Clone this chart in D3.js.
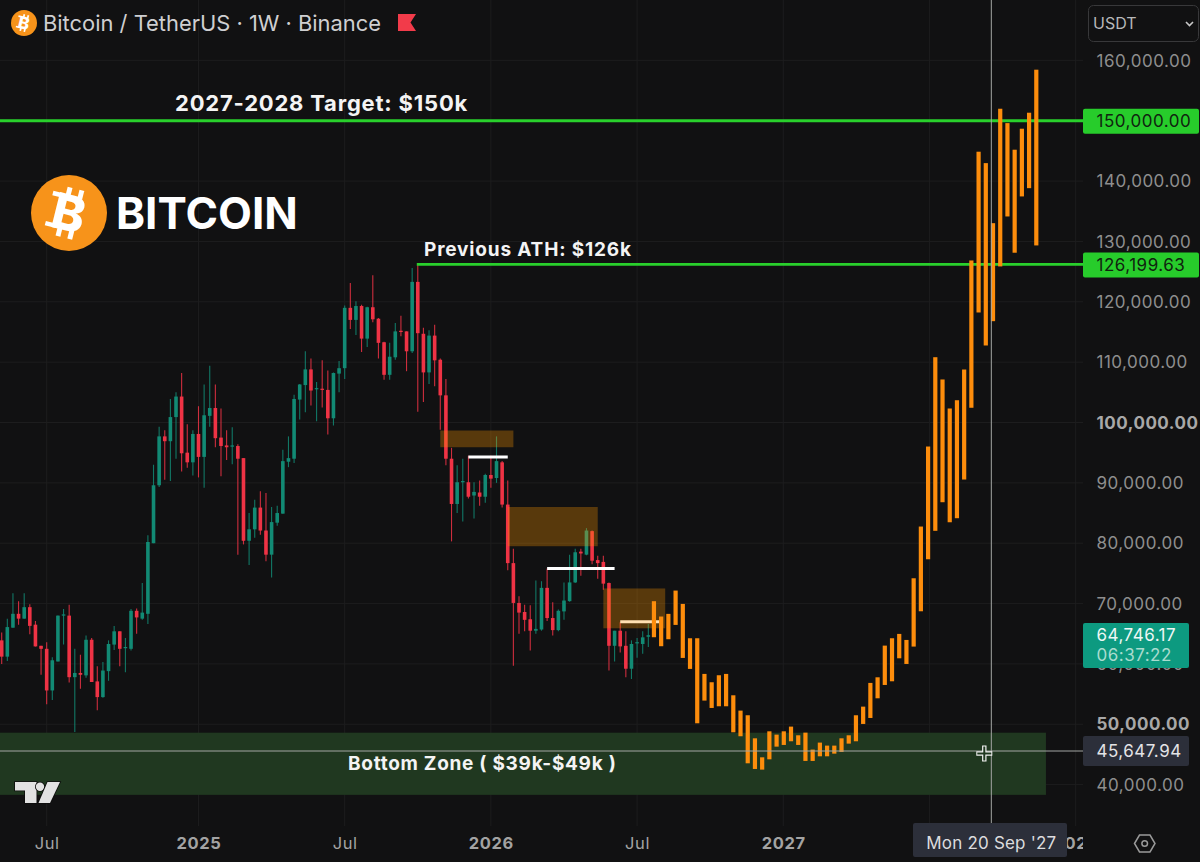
<!DOCTYPE html>
<html>
<head>
<meta charset="utf-8">
<script src="https://cdn.jsdelivr.net/npm/d3@7"></script>
<style>
  html, body { margin: 0; padding: 0; background: #111112; overflow: hidden; }
  svg { display: block; font-family: Inter, "Noto Sans", sans-serif; }
</style>
</head>
<body>
<div id="chart"></div>
<script>
// weekly candles in thousands of USDT
const opens = [63.9,61.2,66.0,68.3,67.5,69.4,66.5,63.0,62.5,55.6,60.4,68.0,68.0,57.8,58.5,58.1,64.0,57.1,54.5,58.8,63.2,65.4,62.6,62.5,68.8,67.5,68.3,80.0,89.6,97.7,96.9,100.9,104.3,95.0,93.4,98.1,94.3,101.1,102.4,97.5,96.2,96.0,96.1,94.1,80.4,82.3,85.9,82.1,78.1,83.4,84.9,93.5,94.0,103.8,106.2,108.8,105.5,105.6,105.4,100.7,108.1,109.0,119.0,117.0,119.3,113.9,119.1,117.2,113.3,107.9,110.8,115.2,115.1,111.8,123.3,114.7,108.3,114.4,110.4,104.5,94.0,86.5,90.1,90.1,87.9,88.4,87.7,91.3,90.8,93.4,86.4,76.7,70.1,68.6,67.4,65.5,65.7,72.6,67.6,65.6,68.7,70.4,73.5,78.6,78.1,82.0,77.2,76.9,73.4,63.0,65.5,63.0,59.2,63.4,63.3,64.5];
const closes = [61.2,66.1,68.3,67.5,69.4,66.3,62.9,62.5,55.6,60.6,68.0,68.2,57.8,58.5,58.2,64.0,57.0,54.5,58.9,63.3,65.4,62.5,62.8,68.8,67.7,68.5,80.2,89.6,97.7,96.9,100.9,104.3,94.9,93.4,98.1,94.3,101.2,102.4,97.4,96.1,95.9,96.2,94.0,80.4,82.3,85.9,82.1,78.1,83.5,85.0,93.6,94.1,103.9,106.3,108.8,105.3,105.7,105.5,100.7,108.2,109.0,119.0,117.0,119.3,113.9,119.1,117.1,113.2,107.9,110.9,115.1,115.0,111.8,123.3,114.8,108.3,114.4,110.3,104.5,94.0,86.5,90.1,90.3,87.7,88.5,87.7,91.3,90.7,93.6,86.4,76.7,70.1,68.5,67.3,65.5,65.8,72.6,67.6,65.6,68.8,70.5,73.5,78.5,78.3,82.1,77.1,76.7,73.3,63.0,65.5,62.9,59.2,63.3,63.6,64.4,64.75];
const highs = [65.2,67.5,71.7,70.4,71.7,69.9,67.1,63.0,63.6,61.1,68.0,69.1,69.8,62.5,61.5,64.7,64.3,59.6,60.3,63.9,66.3,65.4,64.3,69.1,69.2,73.4,81.3,93.0,99.3,98.7,103.9,105.0,108.2,99.7,98.7,102.7,106.3,109.4,106.3,102.3,98.7,99.2,96.4,94.1,85.0,87.2,88.6,88.3,86.0,86.2,95.5,97.7,104.6,106.4,111.8,110.6,106.7,110.3,108.6,108.3,110.2,119.4,123.1,120.1,119.5,119.2,124.4,117.3,113.4,113.2,116.5,117.7,115.1,125.6,126.2,115.7,115.3,116.2,110.6,107.2,95.8,92.9,94.0,94.5,90.1,90.4,91.5,94.5,97.7,93.6,90.4,79.1,71.2,69.8,69.7,73.8,73.7,75.8,70.2,69.0,73.5,78.1,79.1,79.1,82.5,82.1,77.9,77.9,73.5,65.5,66.9,65.4,63.9,64.3,65.4,66.6];
const lows = [60.0,60.5,66.0,66.5,67.5,64.9,62.9,58.2,53.3,54.0,60.4,63.2,56.9,48.7,55.9,57.7,57.0,52.3,54.4,57.2,62.3,59.6,58.6,62.2,65.0,67.3,66.6,80.0,89.3,90.5,90.3,94.0,91.9,92.5,91.2,90.9,89.2,99.3,95.9,91.1,93.8,93.1,78.1,79.8,76.4,80.9,81.4,77.0,74.3,82.9,84.9,92.6,93.3,100.5,101.7,102.8,100.2,102.5,98.0,99.5,105.0,107.2,115.5,114.5,111.7,112.5,116.6,110.6,107.1,107.1,110.4,114.3,108.5,111.5,101.8,103.4,106.4,106.0,98.8,92.9,80.3,85.0,83.6,87.4,84.1,86.2,86.7,89.2,90.0,85.9,75.5,59.7,65.0,65.4,62.2,65.0,65.5,67.1,64.7,65.4,67.3,70.3,73.4,74.6,78.0,76.5,74.1,72.3,58.9,60.4,61.9,57.8,57.5,61.0,61.7,62.8];

// orange projected bars, top and bottom of each bar
const projTops = [70.39,67.85,68.29,72.15,69.94,64.25,64.25,58.34,56.96,58.12,58.34,54.80,52.26,51.49,47.67,44.52,48.83,48.28,48.83,49.61,48.17,48.61,45.80,46.96,46.46,46.46,47.67,48.17,51.49,52.92,56.85,57.78,63.03,64.25,64.97,63.97,74.19,82.76,96.02,110.82,107.13,102.32,103.69,108.78,126.85,144.87,142.98,133.03,151.99,149.61,145.20,148.68,151.33,158.46];
const projBottoms = [64.42,62.93,64.09,66.46,60.99,59.17,50.16,53.92,52.70,52.98,52.98,48.67,48.01,43.53,42.59,42.48,44.19,46.29,46.57,47.18,46.57,43.92,43.92,44.69,44.69,45.13,45.41,46.79,47.18,50.05,51.04,54.30,56.51,57.12,60.93,59.99,62.87,68.72,77.34,82.05,86.79,83.47,84.14,90.55,102.44,118.23,112.76,116.79,125.86,134.14,128.13,137.46,138.83,129.34];

// axes
const priceTicks = [160000,150000,140000,130000,120000,110000,100000,90000,80000,70000,60000,50000,40000];
const boldPrices = [100000,50000];
const timeTicks = ["2024-07-01","2025-01-06","2025-07-07","2026-01-05","2026-07-06","2027-01-04","2027-07-05","2028-01-03"];
// the Jul 2027 label sits under the date tag in the picture, so it stays empty
const timeLabels = ["Jul","2025","Jul","2026","Jul","2027","","2028"];

// drawings
const supplyStarts = ["2025-11-03","2026-01-26","2026-05-25"];
const supplyEnds = ["2026-02-02","2026-05-18","2026-08-10"];
const supplyTops = [98.67,86.0,72.5];
const supplyBottoms = [95.9,79.5,65.9];
const whiteStarts = ["2025-12-08","2026-03-16","2026-06-15"];
const whiteEnds = ["2026-01-26","2026-06-08","2026-08-03"];
const whiteLevels = [94.3,75.8,67.0];

const target = 150000, prevAth = 126199.63, lastPrice = 64746.17, crossPrice = 45647.94;

const width = 1200, height = 862, plotRight = 1083;
const k = v => v * 1000;
const day = s => new Date(s + "T00:00:00Z");
const firstWeek = day("2024-05-06");
const weeks = opens.map((_, i) => d3.utcMonday.offset(firstWeek, i));

const x = d3.scaleUtc()
  .domain([firstWeek, d3.utcMonday.offset(firstWeek, 184)])
  .range([1.7, 1036.3]);
const y = d3.scaleLinear().domain([40000, 160000]).range([784.6, 60.4]);
const xProj = d3.scalePoint()
  .domain(d3.range(projTops.length))
  .range([x(day("2026-07-27")), x(day("2027-11-15"))]);

const svg = d3.select("#chart").append("svg")
  .attr("width", width)
  .attr("height", height);

svg.append("rect").attr("width", width).attr("height", height).attr("fill", "#111112");

const defs = svg.append("defs");
defs.append("clipPath").attr("id", "plot-clip")
  .append("rect").attr("width", plotRight).attr("height", height);

// grid
const grid = svg.append("g").attr("stroke", "#1d1d1e").attr("stroke-width", 1);
grid.selectAll(".h").data(priceTicks).join("line").attr("class", "h")
  .attr("x1", 0).attr("x2", plotRight)
  .attr("y1", d => y(d)).attr("y2", d => y(d));
grid.selectAll(".v").data(timeTicks).join("line").attr("class", "v")
  .attr("x1", d => x(day(d))).attr("x2", d => x(day(d)))
  .attr("y1", 0).attr("y2", 826);

// bottom zone
svg.append("rect")
  .attr("x", x(day("2024-01-01")))
  .attr("width", x(day("2027-11-27")) - x(day("2024-01-01")))
  .attr("y", y(k(48.6)))
  .attr("height", y(k(38.3)) - y(k(48.6)))
  .attr("fill", "#203820");

// candles
const candle = svg.append("g").selectAll("g").data(weeks).join("g")
  .attr("fill", (d, i) => closes[i] >= opens[i] ? "#128a74" : "#ef3345")
  .attr("stroke", (d, i) => closes[i] >= opens[i] ? "#128a74" : "#ef3345");
candle.append("line")
  .attr("x1", d => x(d)).attr("x2", d => x(d))
  .attr("y1", (d, i) => y(k(highs[i])))
  .attr("y2", (d, i) => y(k(lows[i])))
  .attr("stroke-width", 1.1)
  .attr("stroke-opacity", 0.85);
candle.append("rect")
  .attr("x", d => x(d) - 1.8)
  .attr("width", 3.6)
  .attr("y", (d, i) => y(k(Math.max(opens[i], closes[i]))))
  .attr("height", (d, i) => Math.max(1.2, Math.abs(y(k(opens[i])) - y(k(closes[i])))))
  .attr("stroke", "none");

// white levels, then the supply boxes over them
svg.append("g").selectAll("line").data(whiteLevels).join("line")
  .attr("x1", (d, i) => x(day(whiteStarts[i])))
  .attr("x2", (d, i) => x(day(whiteEnds[i])))
  .attr("y1", d => y(k(d))).attr("y2", d => y(k(d)))
  .attr("stroke", "#fff").attr("stroke-width", 3);

svg.append("g").selectAll("rect").data(supplyTops).join("rect")
  .attr("x", (d, i) => x(day(supplyStarts[i])))
  .attr("width", (d, i) => x(day(supplyEnds[i])) - x(day(supplyStarts[i])))
  .attr("y", d => y(k(d)))
  .attr("height", (d, i) => y(k(supplyBottoms[i])) - y(k(d)))
  .attr("fill", "#ff9800").attr("fill-opacity", 0.3);

// green levels
const levels = svg.append("g").attr("stroke", "#29d02c").attr("stroke-width", 2.8);
levels.append("line").attr("x1", 0).attr("x2", plotRight).attr("y1", y(target)).attr("y2", y(target));
levels.append("line").attr("x1", x(weeks[74]) - 1).attr("x2", plotRight).attr("y1", y(prevAth)).attr("y2", y(prevAth));

// projection
svg.append("g").selectAll("rect").data(projTops).join("rect")
  .attr("x", (d, i) => xProj(i) - 2.1)
  .attr("width", 4.2)
  .attr("y", d => y(k(d)))
  .attr("height", (d, i) => y(k(projBottoms[i])) - y(k(d)))
  .attr("fill", "#fd8d0c");

// crosshair
const cross = svg.append("g").attr("stroke", "#a3a6a3").attr("stroke-width", 1);
cross.append("line").attr("x1", 0).attr("x2", plotRight).attr("y1", y(crossPrice) + 0.5).attr("y2", y(crossPrice) + 0.5);
cross.append("line").attr("x1", x(day("2027-09-20"))).attr("x2", x(day("2027-09-20"))).attr("y1", 0).attr("y2", 826);

// time axis, clipped at the price scale
const timeAxis = d3.axisBottom(x)
  .tickValues(timeTicks.map(day))
  .tickSize(0)
  .tickPadding(11)
  .tickFormat((d, i) => timeLabels[i]);
const gx = svg.append("g")
  .attr("transform", "translate(0,826)")
  .attr("clip-path", "url(#plot-clip)")
  .call(timeAxis);
gx.select(".domain").remove();
gx.selectAll("text")
  .attr("fill", "#a3a3a3")
  .attr("font-family", "Inter")
  .attr("font-size", 16.5)
  .attr("letter-spacing", 0.6)
  .attr("font-weight", (d, i) => timeLabels[i].length > 3 ? 700 : 400);

// price axis
const priceAxis = d3.axisRight(y)
  .tickValues(priceTicks)
  .tickSize(0)
  .tickPadding(13.5)
  .tickFormat(d3.format(",.2f"));
const gy = svg.append("g")
  .attr("transform", `translate(${plotRight},0)`)
  .call(priceAxis);
gy.select(".domain").remove();
gy.selectAll("text")
  .attr("fill", d => boldPrices.includes(d) ? "#a8a8a8" : "#8e8e8e")
  .attr("font-family", "Inter")
  .attr("font-size", 17)
  .attr("letter-spacing", 0.5)
  .attr("font-weight", d => boldPrices.includes(d) ? 700 : 400)
  .attr("dy", "0.33em");

// price tags
function tag(value, h, w, fill, color) {
  const cy = y(value) + 0.5;
  svg.append("rect").attr("x", plotRight).attr("y", cy - h / 2)
    .attr("width", w).attr("height", h).attr("rx", 2).attr("fill", fill);
  svg.append("text").attr("x", plotRight + 13.5).attr("y", cy + 6)
    .attr("font-size", 17).attr("letter-spacing", 0.5).attr("fill", color)
    .text(d3.format(",.2f")(value));
}
tag(target, 25, 116, "#27cc2b", "#10240f");
tag(prevAth, 25, 116, "#27cc2b", "#10240f");
tag(crossPrice, 30, 106, "#2c2f3a", "#e4e4e6");

// last price tag, two lines
svg.append("rect").attr("x", plotRight).attr("y", 623).attr("width", 106).attr("height", 45)
  .attr("rx", 2).attr("fill", "#0d9a80");
svg.append("text").attr("x", plotRight + 13.5).attr("y", 641)
  .attr("font-size", 17).attr("letter-spacing", 0.5).attr("fill", "#eef7f5")
  .text(d3.format(",.2f")(lastPrice));
svg.append("text").attr("x", plotRight + 13.5).attr("y", 661)
  .attr("font-size", 17).attr("letter-spacing", 0.5).attr("fill", "#a9dccf")
  .text("06:37:22");

// date tag
svg.append("rect").attr("x", 913).attr("y", 823).attr("width", 154).attr("height", 34)
  .attr("rx", 2).attr("fill", "#2c2f3a");
svg.append("text").attr("x", x(day("2027-09-20"))).attr("y", 849)
  .attr("text-anchor", "middle").attr("font-size", 17).attr("letter-spacing", 0.2).attr("fill", "#dcdcdf")
  .text("Mon 20 Sep '27");

// bitcoin coin, B with its ticks and serifs, leaning right
function coin(cx, cy, r) {
  svg.append("circle").attr("cx", cx).attr("cy", cy).attr("r", r).attr("fill", "#f7931a");
  const g = svg.append("g")
    .attr("transform", `translate(${cx},${cy}) rotate(14)`)
    .attr("fill", "#fff");
  g.append("text")
    .attr("text-anchor", "middle")
    .attr("dy", "0.36em")
    .attr("font-weight", 800)
    .attr("font-size", r * 1.3)
    .text("B");
  [-0.2, 0.12].forEach(tx => {
    [-0.66, 0.42].forEach(ty => {
      g.append("rect")
        .attr("x", tx * r).attr("y", ty * r)
        .attr("width", 0.13 * r).attr("height", 0.24 * r);
    });
  });
  [-0.47, 0.35].forEach(ty => {
    g.append("rect")
      .attr("x", -0.54 * r).attr("y", ty * r)
      .attr("width", 0.3 * r).attr("height", 0.12 * r);
  });
}

// header
coin(24, 23, 13);
svg.append("text").attr("x", 43).attr("y", 31)
  .attr("font-size", 21.9).attr("fill", "#cfcfd1")
  .text("Bitcoin / TetherUS \u00B7 1W \u00B7 Binance");
svg.append("path")
  .attr("d", "M398,14 H416 L410.5,22.5 L416,31 H398 Z")
  .attr("fill", "#f23b4a");

// currency selector
svg.append("rect").attr("x", 1088.5).attr("y", 5.5).attr("width", 110).attr("height", 36)
  .attr("rx", 5).attr("fill", "none").attr("stroke", "#38383a");
svg.append("text").attr("x", 1093).attr("y", 29)
  .attr("font-size", 16).attr("fill", "#b8b8ba").text("USDT");
svg.append("path").attr("d", "M1186,22 L1189.5,25.5 L1193,22")
  .attr("fill", "none").attr("stroke", "#c8c8c8").attr("stroke-width", 1.6);

// annotations
svg.append("text").attr("x", 175).attr("y", 111)
  .attr("font-size", 22).attr("font-weight", 700).attr("letter-spacing", 0.8).attr("fill", "#f4f4f4")
  .text("2027-2028 Target: $150k");
svg.append("text").attr("x", 424).attr("y", 256)
  .attr("font-size", 19).attr("font-weight", 700).attr("letter-spacing", 0.84).attr("fill", "#f4f4f4")
  .text("Previous ATH: $126k");
svg.append("text").attr("x", 348).attr("y", 770)
  .attr("font-size", 19).attr("font-weight", 700).attr("letter-spacing", 0.72).attr("fill", "#f4f4f4")
  .text("Bottom Zone ( $39k-$49k )");

// logo
coin(69, 213, 38);
svg.append("text").attr("x", 116).attr("y", 229)
  .attr("font-size", 44).attr("font-weight", 700).attr("fill", "#fff")
  .text("BITCOIN");

// TradingView mark
const tv = svg.append("g")
  .attr("fill", "#e2e2e2").attr("stroke", "#0c0c0c").attr("stroke-width", 1.6)
  .attr("paint-order", "stroke");
tv.append("path").attr("d", "M15,782 H36.5 V803 H25 V790.5 H15 Z");
tv.append("circle").attr("cx", 40).attr("cy", 786.7).attr("r", 4.2);
tv.append("path").attr("d", "M47.5,782 H60 L50,803 H38.5 Z");

// settings icon
svg.append("path")
  .attr("d", "M1134.5,843.5 L1139.5,835 H1150 L1155,843.5 L1150,852 H1139.5 Z")
  .attr("fill", "none").attr("stroke", "#9a9a9a").attr("stroke-width", 1.5);
svg.append("circle").attr("cx", 1144.7).attr("cy", 843.5).attr("r", 2.8)
  .attr("fill", "none").attr("stroke", "#9a9a9a").attr("stroke-width", 1.5);

// cursor, an outlined plus
svg.append("path")
  .attr("d", "M984.3,745.5 V761.5 M976.3,753.5 H992.3")
  .attr("stroke", "#f2f2f2").attr("stroke-width", 4.4);
svg.append("path")
  .attr("d", "M984.3,746.5 V760.5 M977.3,753.5 H991.3")
  .attr("stroke", "#203820").attr("stroke-width", 2);
</script>
</body>
</html>
